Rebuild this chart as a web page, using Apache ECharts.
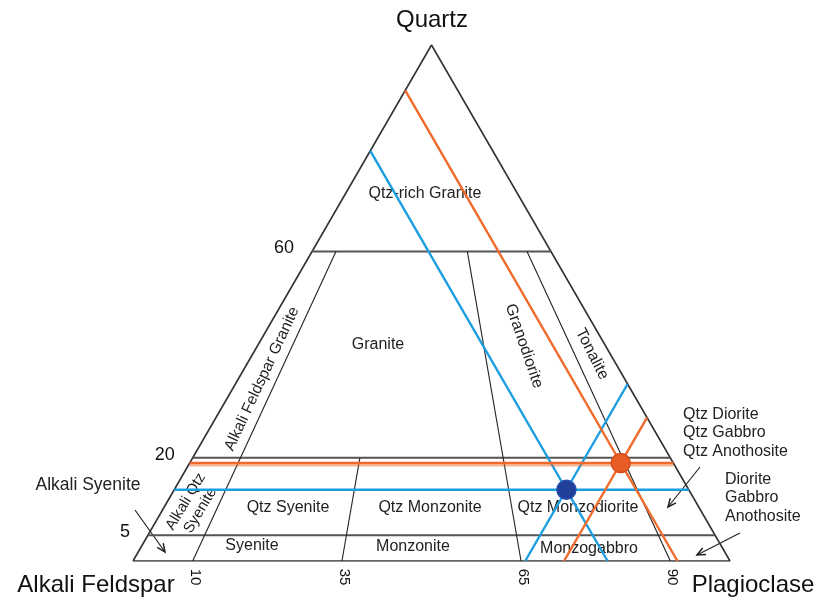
<!DOCTYPE html>
<html>
<head>
<meta charset="utf-8">
<script src="https://cdn.jsdelivr.net/npm/echarts@6/dist/echarts.min.js"></script>
<style>
  html, body { margin: 0; padding: 0; background: #ffffff; }
  #chart { width: 818px; height: 599px; }
</style>
</head>
<body>
<div id="chart"></div>
<script>
// QAP classification triangle (Quartz – Alkali feldspar – Plagioclase)

// Field boundaries: quartz levels (%) and plagioclase ratio P/(A+P) (%)
const quartzLevels = [5, 20, 60];
const ratioCuts = [10, 35, 65, 90];
const ratioTopQuartz = [60, 20, 60, 60];   // quartz % where each ratio boundary stops
const quartzTickLabels = ['5', '20', '60'];
const ratioTickLabels = ['10', '35', '65', '90'];

// Two plotted samples (modal %)
const sampleNames = ['Sample A', 'Sample B'];
const sampleQ = [13.8, 19.0];
const sampleA = [20.5, 8.8];
const sampleP = [65.7, 72.2];

const SQ = Math.sqrt(3) / 2;
function toXY(q, a, p) {
  const s = q + a + p;
  return [(p + q / 2) / s * 100, q / s * 100 * SQ];
}

const FONT = "'Liberation Sans', Arial, Helvetica, sans-serif";
const series = [];
function seg(points, color, width, z, extra) {
  series.push({
    type: 'line', data: points, symbol: 'none', silent: true, z: z,
    lineStyle: Object.assign({ color: color, width: width }, extra || {}),
    animation: false
  });
}

// outline
seg([toXY(0, 100, 0), toXY(0, 0, 100), toXY(100, 0, 0), toXY(0, 100, 0)], '#333', 1.6, 3);
// quartz levels
quartzLevels.forEach(q => seg([toXY(q, 100 - q, 0), toXY(q, 0, 100 - q)], '#555', 2, 3));
// ratio boundaries
ratioCuts.forEach((r, i) => {
  const qt = ratioTopQuartz[i];
  seg([toXY(0, 100 - r, r), toXY(qt, (100 - qt) * (1 - r / 100), (100 - qt) * r / 100)], '#222', 1.1, 3);
});

// sample construction lines
const sampleLine = ['#1b9ee0', '#f06a2b'];
const sampleDot = ['#1f3f98', '#e85d26'];
const sampleDotBorder = ['#2a4cae', '#d24e1e'];
sampleNames.forEach((name, i) => {
  const q = sampleQ[i], a = sampleA[i], p = sampleP[i];
  const c = sampleLine[i];
  const glow = i === 1 ? { shadowColor: 'rgba(240,106,43,0.5)', shadowBlur: 0, shadowOffsetY: 2.4 } : null;
  seg([toXY(q, 100 - q, 0), toXY(q, 0, 100 - q)], c, 2.4, 6, glow);
  seg([toXY(100 - a, a, 0), toXY(0, a, 100 - a)], c, 2.4, 6);
  seg([toXY(0, 100 - p, p), toXY(100 - p, 0, p)], c, 2.4, 6);
});
series.push({
  type: 'scatter', z: 10, silent: true, animation: false, symbolSize: 19,
  data: sampleNames.map((n, i) => ({
    name: n,
    value: toXY(sampleQ[i], sampleA[i], sampleP[i]),
    itemStyle: { color: sampleDot[i], borderColor: sampleDotBorder[i], borderWidth: 1.5, opacity: 1 }
  }))
});

// annotation texts
function txt(x, y, text, size, opts) {
  opts = opts || {};
  return {
    type: 'text', x: x, y: y, rotation: (opts.rot || 0) * Math.PI / 180, z: 1,
    style: {
      text: text, fill: opts.color || '#222', font: size + 'px ' + FONT,
      textAlign: opts.align || 'center', textVerticalAlign: 'middle',
      lineHeight: opts.lh || size * 1.2
    }
  };
}
function arrow(x1, y1, x2, y2) {
  const ang = Math.atan2(y2 - y1, x2 - x1), L = 9, W = 0.42;
  return [
    { type: 'line', z: 1, shape: { x1: x1, y1: y1, x2: x2, y2: y2 }, style: { stroke: '#222', lineWidth: 1.2 } },
    { type: 'polyline', z: 1, shape: { points: [
        [x2 - L * Math.cos(ang - W), y2 - L * Math.sin(ang - W)], [x2, y2],
        [x2 - L * Math.cos(ang + W), y2 - L * Math.sin(ang + W)]] },
      style: { stroke: '#222', lineWidth: 1.5, fill: null } }
  ];
}

const chart = echarts.init(document.getElementById('chart'), null, { renderer: 'canvas' });
chart.setOption({
  animation: false,
  backgroundColor: '#ffffff',
  grid: { left: 133, top: 45, width: 597, height: 516 },
  xAxis: { type: 'value', min: 0, max: 100, show: false },
  yAxis: { type: 'value', min: 0, max: 100 * SQ, show: false },
  series: series
});

// place tick labels through the grid mapping
const gp = v => chart.convertToPixel({ gridIndex: 0 }, v);
const elements = [];
quartzLevels.forEach((q, i) => {
  const pt = gp(toXY(q, 100 - q, 0));
  elements.push(txt(pt[0] - 18, pt[1] - 3, quartzTickLabels[i], 18, { color: '#111', align: 'right' }));
});
ratioCuts.forEach((r, i) => {
  const pt = gp(toXY(0, 100 - r, r));
  elements.push(txt(pt[0] + 2, pt[1] + 16, ratioTickLabels[i], 15, { color: '#111', rot: -90 }));
});

const LS = 16;
elements.push(
  txt(432, 20, 'Quartz', 24, { color: '#111' }),
  txt(96, 585, 'Alkali Feldspar', 24, { color: '#111' }),
  txt(753, 585, 'Plagioclase', 24, { color: '#111' }),
  txt(425, 194, 'Qtz-rich Granite', LS),
  txt(378, 345, 'Granite', LS),
  txt(262, 379, 'Alkali Feldspar Granite', 15.5, { rot: 65 }),
  txt(524, 346, 'Granodiorite', LS, { rot: -71 }),
  txt(592, 354, 'Tonalite', LS, { rot: -63 }),
  txt(193, 506, 'Alkali Qtz\nSyenite', 15, { rot: 59, lh: 17 }),
  txt(288, 508, 'Qtz Syenite', LS),
  txt(430, 508, 'Qtz Monzonite', LS),
  txt(578, 508, 'Qtz Monzodiorite', LS),
  txt(252, 546, 'Syenite', LS),
  txt(413, 547, 'Monzonite', LS),
  txt(589, 549, 'Monzogabbro', LS),
  txt(683, 433, 'Qtz Diorite\nQtz Gabbro\nQtz Anothosite', LS, { align: 'left', lh: 18.5 }),
  txt(725, 498, 'Diorite\nGabbro\nAnothosite', LS, { align: 'left', lh: 18.5 }),
  txt(88, 485, 'Alkali Syenite', 17.5)
);
elements.push.apply(elements, arrow(135, 510, 165, 552));
elements.push.apply(elements, arrow(700, 467, 668, 507));
elements.push.apply(elements, arrow(740, 533, 697, 555));

chart.setOption({ graphic: { elements: elements } });
</script>
</body>
</html>
